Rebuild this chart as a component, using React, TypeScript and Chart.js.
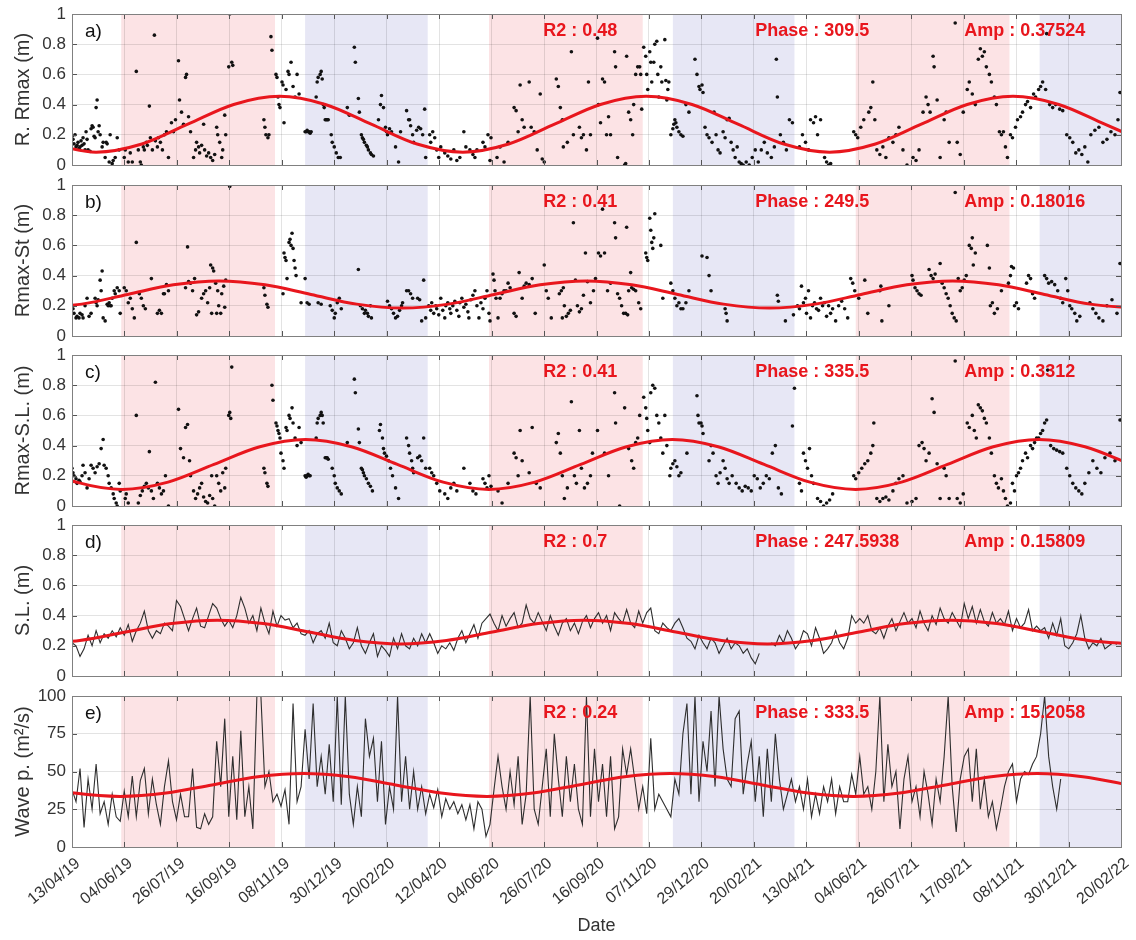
import React, { useEffect, useRef } from "react";
import { Chart, registerables } from "chart.js";
Chart.register(...registerables);

const FONT = "'Liberation Sans', Arial, Helvetica, sans-serif";
const RED = "#e8161d";
const PINK = "#fce3e5";
const LAV = "#e7e7f5";

const startDate = "2019-04-13";
const totalDays = 1044;
const tickLabels = ["13/04/19","04/06/19","26/07/19","16/09/19","08/11/19","30/12/19","20/02/20","12/04/20","04/06/20","26/07/20","16/09/20","07/11/20","29/12/20","20/02/21","13/04/21","04/06/21","26/07/21","17/09/21","08/11/21","30/12/21","20/02/22"];
const summerBands = [["2019-06-01","2019-11-01"],["2020-06-01","2020-11-01"],["2021-06-01","2021-11-01"]];
const winterBands = [["2019-12-01","2020-04-01"],["2020-12-01","2021-04-01"],["2021-12-01","2022-04-01"]];
const noteDays = [469, 680, 888];

// a) R. Rmax (m)
const rRmaxPts = [
[0,0.19],[1,0.17],[2,0.14],[3,0.2],[4,0.12],[5,0.13],[6,0.15],[7,0.11],[8,0.12],[9,0.16],[10,0.13],[11,0.18],[12,0.14],[13,0.1],[14,0.22],[15,0.17],[16,0.1],[18,0.09],[19,0.24],[20,0.26],[21,0.25],[22,0.19],[23,0.18],[24,0.38],[25,0.43],[26,0.22],[27,0.26],[28,0.2],[30,0.12],[31,0.15],[33,0.05],[34,0.15],[35,0.14],[37,0.02],[38,0.2],[40,0.01],[41,0.03],[43,0.05],[45,0.18],[47,0.1],
[52,0.05],[53,0.1],[56,0.02],[58,0.08],[60,0.02],[64,0.62],[66,0.1],[68,0.02],[69,0.0],[71,0.12],[72,0.1],[74,0.15],[75,0.13],[77,0.39],[78,0.18],[80,0.1],[82,0.86],[83,0.16],[85,0.12],[86,0.18],[88,0.15],[90,0.1],[92,0.2],[94,0.22],[96,0.05],[99,0.28],[101,0.22],[103,0.3],[106,0.69],[107,0.43],[109,0.35],[111,0.27],[113,0.58],[114,0.6],[116,0.32],[118,0.22],[121,0.05],[123,0.1],[124,0.15],[126,0.12],[127,0.08],[129,0.13],[131,0.27],[132,0.1],[134,0.06],[136,0.08],[138,0.05],[140,0.03],[142,0.07],[144,0.25],[145,0.2],[147,0.15],[149,0.05],[150,0.1],[152,0.33],[153,0.2],[156,0.65],[157,1.0],[159,0.68],[160,0.66],
[191,0.3],[192,0.25],[193,0.2],[195,0.18],[196,0.2],[198,0.85],[199,0.76],
[203,0.6],[204,0.58],[205,0.45],[206,0.4],[207,0.38],[209,0.55],[210,0.53],[211,0.28],[213,0.5],[215,0.62],[216,0.6],[218,0.68],[220,0.52],[222,0.45],[224,0.6],[226,0.47],
[232,0.22],[233,0.22],[234,0.23],[235,0.22],[236,0.22],[237,0.21],[238,0.22],[243,0.45],[244,0.55],[245,0.58],[247,0.6],[248,0.62],[249,0.57],[250,0.4],[251,0.38],[252,0.3],[253,0.3],[254,0.3],[255,0.3],[258,0.2],[259,0.15],[261,0.12],[263,0.08],[265,0.05],[267,0.05],[274,0.38],[276,0.33],[281,0.78],[282,0.68],[285,0.44],[286,0.35],[288,0.2],[289,0.18],[290,0.17],[291,0.15],[293,0.13],[294,0.12],[295,0.1],[297,0.08],[298,0.07],[300,0.06],[305,0.3],[307,0.4],[308,0.46],[310,0.38],[312,0.25],[313,0.22],[314,0.2],[316,0.24],[318,0.22],[322,0.12],[325,0.02],[327,0.22],[333,0.36],[335,0.3],[336,0.3],[337,0.26],[339,0.2],[340,0.15],[343,0.23],[345,0.25],[347,0.24],[349,0.2],[351,0.37],[352,0.05],
[356,0.2],[357,0.15],[359,0.22],[361,0.18],[363,0.1],[365,0.05],[367,0.12],[371,0.08],[374,0.06],[377,0.04],[380,0.1],[383,0.03],[386,0.05],[390,0.22],[392,0.12],[396,0.1],[399,0.07],[401,0.05],[403,0.1],[409,0.15],[411,0.12],[414,0.2],[416,0.03],[417,0.18],
[423,0.05],[426,0.12],[430,0.02],[434,0.15],[440,0.38],[442,0.36],[444,0.22],[446,0.53],[448,0.3],[450,0.25],[455,0.55],[457,0.25],[460,0.22],[463,0.1],[466,0.47],[468,0.04],[470,0.02],[482,0.57],[484,0.52],[486,0.38],[488,0.3],[489,0.12],[493,0.15],[497,0.75],[499,0.2],[505,0.25],[507,0.18],[509,0.2],[512,0.1],[514,0.55],[516,0.2],
[523,0.84],[524,0.4],[526,0.28],[528,0.57],[530,0.55],[532,0.2],[534,0.32],[536,0.2],[540,0.75],[541,0.65],[543,0.05],[550,0.0],[551,0.01],[552,0.72],[554,0.35],[556,0.3],[558,0.2],[559,0.4],[561,0.6],[563,0.65],[565,0.65],[566,0.6],[567,0.37],
[569,0.78],[571,0.72],[572,0.6],[573,0.5],[575,0.75],[576,0.68],[577,0.55],[579,0.68],[580,0.8],[582,0.82],[583,0.6],[584,0.45],[586,0.65],[587,0.55],[590,0.83],[591,0.56],[592,0.43],[593,0.5],[594,0.55],[596,0.2],
[598,0.24],[599,0.27],[600,0.3],[601,0.28],[602,0.25],[604,0.22],[606,0.2],[608,0.19],[611,0.4],[614,0.35],[620,0.7],[622,0.6],[624,0.52],[625,0.5],[627,0.53],[628,0.48],[630,0.25],[632,0.2],[634,0.18],[637,0.15],[639,0.35],[641,0.2],[643,0.1],[645,0.08],[648,0.22],[650,0.18],[652,0.3],[654,0.31],[656,0.15],[658,0.1],[660,0.05],[662,0.12],[664,0.02],[666,0.01],[668,0.0],[671,0.02],[674,0.0],[677,0.05],[680,0.1],[683,0.02],[686,0.1],[689,0.15],[692,0.08],[696,0.05],[699,0.12],[701,0.7],[702,0.45],[705,0.2],[708,0.15],[711,0.1],[714,0.3],[717,0.28],
[724,0.12],[727,0.2],[730,0.15],[733,0.1],[735,0.3],[738,0.28],[740,0.32],[742,0.2],[745,0.3],[749,0.05],[751,0.02],[753,0.0],[755,0.01],
[778,0.22],[780,0.2],[782,0.18],[785,0.25],[788,0.3],[793,0.35],[795,0.38],[797,0.55],[799,0.3],[801,0.1],[804,0.07],[807,0.12],[810,0.05],[813,0.18],[817,0.15],[820,0.2],[823,0.25],[827,0.1],[831,0.0],[837,0.05],[840,0.03],[843,0.1],[847,0.35],[850,0.45],[852,0.4],[854,0.35],[857,0.72],[858,0.65],[861,0.43],[864,0.05],[868,0.3],[870,0.35],[873,0.15],[879,0.94],[881,0.15],[884,0.07],[887,0.35],[891,0.5],[893,0.55],[896,0.47],[899,0.4],[902,0.7],[904,0.77],[906,0.72],[908,0.75],[910,0.65],[913,0.6],[915,0.55],[918,0.45],[920,0.4],[923,0.22],[925,0.2],[927,0.22],[929,0.12],
[931,0.05],[934,0.2],[936,0.18],[939,0.25],[941,0.3],[944,0.32],[946,0.35],[949,0.4],[951,0.42],[954,0.38],[957,0.47],[959,0.45],
[962,0.5],[964,0.52],[966,0.55],[969,0.5],[970,0.87],[973,0.4],[976,0.38],[979,0.4],[983,0.37],[986,0.36],[990,0.2],[993,0.18],[996,0.15],[999,0.08],[1002,0.1],[1005,0.07],[1008,0.12],[1011,0.02],[1014,0.2],[1018,0.23],[1022,0.25],[1026,0.15],[1030,0.17],[1034,0.22],[1038,0.2],[1041,0.3],[1043,0.48]
];

// b) Rmax-St (m)
const rmaxStPts = [
[1,0.18],[2,0.15],[4,0.12],[5,0.13],[7,0.12],[8,0.15],[10,0.14],[11,0.12],[13,0.2],[15,0.25],[17,0.13],[19,0.15],[23,0.25],[24,0.22],[25,0.2],[26,0.24],[28,0.37],[29,0.3],[30,0.43],[31,0.12],[33,0.1],[35,0.21],[36,0.2],[37,0.22],[38,0.2],[39,0.2],[40,0.25],[42,0.3],[43,0.28],[45,0.32],[47,0.3],[48,0.15],
[52,0.32],[54,0.3],[56,0.22],[58,0.25],[60,0.18],[62,0.12],[64,0.62],[67,0.28],[69,0.25],[71,0.2],[73,0.18],[79,0.38],[85,0.15],[87,0.17],[89,0.15],[91,0.28],[92,0.28],[94,0.34],[96,0.3],[113,0.32],[115,0.59],[116,0.36],[118,0.35],[120,0.3],[122,0.38],[124,0.14],[126,0.16],[129,0.25],[131,0.28],[133,0.3],[135,0.22],[137,0.32],[138,0.47],[139,0.15],[140,0.45],[141,0.43],[143,0.35],[144,0.15],[145,0.3],[146,0.2],[148,0.15],[149,0.28],[151,0.33],[152,0.19],[153,0.37],[157,0.99],
[191,0.32],[192,0.27],[194,0.21],[195,0.19],
[210,0.28],[211,0.55],[212,0.52],[213,0.5],[214,0.38],[216,0.62],[217,0.64],[218,0.6],[219,0.68],[220,0.58],[221,0.5],[222,0.45],[223,0.4],[228,0.22],[232,0.38],
[234,0.22],[236,0.21],[245,0.22],[248,0.21],[257,0.2],[259,0.17],[261,0.12],[262,0.15],[264,0.22],[266,0.25],[268,0.18],[285,0.44],[287,0.2],[289,0.18],[291,0.15],[292,0.17],[294,0.15],[295,0.13],[297,0.2],[298,0.12],[314,0.23],[316,0.2],[318,0.18],[320,0.15],[322,0.12],[324,0.13],[326,0.17],[328,0.2],[329,0.22],[333,0.3],[335,0.3],[337,0.28],[339,0.25],[344,0.25],[346,0.24],[348,0.1],[350,0.37],[352,0.12],
[355,0.2],[357,0.17],[358,0.22],[360,0.15],[362,0.2],[363,0.18],[365,0.14],[367,0.25],[369,0.17],[371,0.12],[372,0.2],[374,0.22],[376,0.18],[377,0.15],[379,0.2],[381,0.23],[383,0.17],[385,0.13],[386,0.22],[388,0.25],[390,0.19],[392,0.21],[394,0.16],[395,0.12],[397,0.24],[399,0.27],[401,0.3],[403,0.2],[405,0.12],[407,0.22],[409,0.18],[411,0.25],[413,0.3],[415,0.15],[416,0.1],
[419,0.41],[420,0.37],[421,0.3],[422,0.25],[424,0.12],[426,0.25],[428,0.28],[430,0.3],[432,0.3],[434,0.35],[436,0.32],[440,0.15],[442,0.13],[445,0.42],[448,0.25],[450,0.33],[452,0.35],[455,0.34],[458,0.38],[461,0.15],[470,0.47],[472,0.3],[474,0.25],[477,0.12],[485,0.28],[487,0.3],[488,0.12],[489,0.32],[490,0.2],[492,0.13],[494,0.15],[496,0.17],[499,0.75],[501,0.37],[503,0.2],[505,0.16],[507,0.18],[509,0.27],[511,0.55],[513,0.36],[516,0.22],[519,0.3],[521,0.38],
[524,0.55],[526,0.53],[528,0.84],[530,0.55],[533,0.3],[536,0.35],[540,0.75],[541,0.65],[543,0.28],[545,0.25],[547,0.2],[549,0.15],[551,0.15],[552,0.72],[553,0.14],[554,0.3],[556,0.42],[557,0.32],[559,0.31],[561,0.3],[564,0.22],[566,0.18],
[571,0.55],[572,0.52],[573,0.5],[575,0.78],[576,0.7],[577,0.62],[578,0.58],[579,0.65],[580,0.81],[586,0.6],[588,0.25],
[596,0.35],[598,0.3],[600,0.25],[602,0.2],[604,0.22],[606,0.18],[608,0.18],[611,0.22],[614,0.3],[627,0.53],[632,0.52],[634,0.4],[636,0.3],[650,0.18],[651,0.15],[652,0.1],[702,0.27],[703,0.23],[710,0.1],[718,0.14],
[722,0.2],[724,0.18],[726,0.33],[728,0.22],[730,0.25],[731,0.15],[733,0.3],[735,0.12],[737,0.2],[739,0.22],[741,0.18],[743,0.17],[745,0.25],[747,0.2],[749,0.22],[751,0.13],[753,0.2],[755,0.15],[757,0.18],[760,0.1],[763,0.2],[766,0.23],[769,0.18],[772,0.12],[775,0.38],[777,0.35],[779,0.3],
[783,0.25],[789,0.37],[792,0.15],[804,0.3],[805,0.33],[806,0.1],[813,0.2],[836,0.4],[837,0.37],[839,0.32],[841,0.3],[843,0.28],[845,0.27],[853,0.44],[855,0.4],[857,0.38],[859,0.41],[864,0.48],[866,0.35],[868,0.32],[870,0.28],[872,0.25],[874,0.2],[876,0.15],[878,0.12],[879,0.95],[880,0.1],[882,0.38],[884,0.3],[886,0.32],[888,0.37],[890,0.4],[893,0.6],[895,0.58],[896,0.65],[897,0.47],[899,0.55],[911,0.6],[913,0.45],[914,0.2],[916,0.22],[918,0.15],[921,0.18],[925,0.3],
[932,0.35],[934,0.4],[935,0.46],[937,0.45],[938,0.2],[940,0.22],[942,0.18],[950,0.35],[952,0.4],[954,0.38],[956,0.28],[958,0.25],
[968,0.4],[970,0.38],[972,0.35],[975,0.36],[978,0.34],[981,0.3],[984,0.25],[986,0.22],[989,0.38],[991,0.3],[993,0.2],[995,0.18],[998,0.15],[1000,0.1],[1003,0.13],[1013,0.22],[1016,0.18],[1019,0.15],[1022,0.12],[1026,0.1],[1030,0.2],[1035,0.24],[1040,0.15],[1043,0.48]
];

// c) Rmax-S.L. (m)
const rmaxSlPts = [
[0,0.25],[1,0.22],[2,0.2],[4,0.18],[5,0.15],[7,0.17],[8,0.16],[10,0.2],[11,0.27],[13,0.22],[15,0.12],[17,0.18],[19,0.27],[21,0.25],[23,0.22],[25,0.26],[27,0.28],[29,0.38],[31,0.44],[32,0.27],[34,0.25],[36,0.2],[37,0.15],[39,0.12],[41,0.08],[42,0.05],[44,0.02],[45,0.0],[47,0.15],[48,0.1],
[53,0.05],[54,0.08],[56,0.02],[64,0.6],[66,0.02],[68,0.07],[70,0.1],[72,0.13],[74,0.15],[76,0.12],[77,0.36],[79,0.1],[81,0.05],[83,0.82],[85,0.15],[87,0.12],[89,0.08],[91,0.1],[93,0.2],[96,0.0],[106,0.64],[108,0.38],[111,0.32],[113,0.52],[115,0.54],[117,0.3],[118,0.2],[121,0.1],[123,0.05],[125,0.08],[127,0.12],[129,0.15],[131,0.06],[133,0.03],[135,0.02],[137,0.07],[139,0.2],[140,0.05],[142,0.0],[144,0.2],[146,0.15],[148,0.1],[150,0.22],[152,0.12],[153,0.25],[156,0.6],[157,0.62],[158,0.58],[159,0.92],[191,0.25],[192,0.22],[194,0.15],[195,0.13],[199,0.8],[200,0.7],
[203,0.55],[204,0.53],[205,0.5],[206,0.48],[207,0.45],[208,0.35],[210,0.3],[211,0.25],[213,0.52],[214,0.5],[216,0.6],[217,0.58],[219,0.65],[220,0.55],[222,0.45],[224,0.4],[226,0.52],[228,0.42],
[232,0.2],[233,0.19],[234,0.2],[235,0.21],[236,0.2],[237,0.2],[243,0.45],[244,0.55],[245,0.58],[247,0.6],[248,0.62],[249,0.6],[250,0.55],[252,0.32],[253,0.32],[254,0.32],[255,0.31],[259,0.25],[261,0.2],[262,0.15],[264,0.12],[266,0.1],[268,0.08],[274,0.42],[281,0.84],[282,0.75],[285,0.51],[286,0.42],[288,0.25],[289,0.24],[290,0.22],[291,0.2],[293,0.18],[295,0.15],[297,0.13],[299,0.1],[306,0.5],[307,0.54],[309,0.45],[310,0.38],[311,0.35],[313,0.33],[315,0.3],[317,0.25],[319,0.2],[322,0.12],[325,0.05],[333,0.45],[335,0.4],[336,0.35],[338,0.3],[339,0.25],[340,0.22],[344,0.32],[346,0.33],[348,0.3],[350,0.45],[352,0.25],
[356,0.25],[358,0.22],[360,0.2],[363,0.15],[366,0.1],[371,0.08],[374,0.05],[377,0.12],[380,0.15],[383,0.1],[390,0.25],[396,0.15],[399,0.1],[402,0.08],[409,0.18],[411,0.15],[413,0.12],[415,0.2],[417,0.13],
[424,0.1],[428,0.02],[434,0.15],[440,0.35],[442,0.32],[444,0.2],[446,0.5],[448,0.3],[455,0.22],[458,0.52],[462,0.15],[466,0.12],[482,0.42],[484,0.48],[486,0.35],[488,0.2],[490,0.05],[493,0.12],[497,0.69],[500,0.2],[502,0.15],[505,0.5],[507,0.25],[510,0.12],[513,0.15],[516,0.2],[518,0.35],
[523,0.5],[530,0.35],[534,0.2],[540,0.75],[541,0.55],[545,0.0],[550,0.65],[554,0.38],[557,0.3],[559,0.25],[561,0.42],[563,0.45],[565,0.6],
[569,0.72],[571,0.65],[572,0.58],[573,0.5],[575,0.42],[576,0.75],[578,0.8],[580,0.78],[582,0.6],[584,0.55],[586,0.45],[588,0.35],[590,0.6],[592,0.4],[595,0.2],
[596,0.25],[598,0.28],[600,0.3],[602,0.26],[604,0.2],[606,0.22],[612,0.35],[622,0.73],[623,0.6],[624,0.55],[626,0.55],[627,0.53],[628,0.48],[634,0.3],[636,0.4],[638,0.35],[641,0.2],[643,0.15],[645,0.22],[648,0.3],[650,0.25],[652,0.18],[654,0.15],[657,0.2],[661,0.15],[664,0.12],[667,0.1],[670,0.13],[673,0.12],[676,0.1],[679,0.2],[682,0.18],[685,0.12],[688,0.15],[691,0.2],[694,0.18],[697,0.35],[700,0.4],[703,0.12],[706,0.08],[717,0.53],[719,0.78],
[724,0.15],[726,0.1],[728,0.35],[730,0.3],[732,0.25],[734,0.38],[736,0.2],[738,0.15],[742,0.05],[745,0.03],[748,0.0],[751,0.02],[754,0.04],[757,0.08],[778,0.2],[780,0.18],[783,0.22],[786,0.25],[789,0.28],
[792,0.3],[795,0.35],[797,0.4],[798,0.55],[801,0.05],[804,0.03],[807,0.05],[810,0.06],[813,0.04],[817,0.1],[820,0.15],[823,0.18],[827,0.2],[831,0.02],[836,0.03],[840,0.05],[843,0.4],[846,0.42],[848,0.38],[850,0.3],[853,0.35],[856,0.71],[858,0.62],[861,0.28],[864,0.05],[868,0.25],[870,0.2],[873,0.05],[879,0.96],[881,0.05],[884,0.02],[887,0.08],[891,0.55],[893,0.52],[896,0.6],[898,0.5],[900,0.45],[902,0.67],[904,0.65],[906,0.63],[908,0.58],[910,0.55],[913,0.45],[915,0.35],[918,0.2],[920,0.15],[922,0.12],[925,0.18],[927,0.1],[929,0.05],[931,0.0],
[934,0.02],[936,0.15],[938,0.1],[940,0.2],[942,0.22],[944,0.25],[946,0.3],[949,0.35],[951,0.32],[954,0.4],[956,0.38],[958,0.42],[960,0.45],
[962,0.45],[964,0.48],[966,0.5],[968,0.55],[970,0.57],[971,0.9],[974,0.4],[977,0.38],[980,0.37],[983,0.36],[986,0.35],[990,0.25],[993,0.2],[996,0.15],[999,0.12],[1002,0.1],[1005,0.08],[1008,0.15],[1012,0.22],[1016,0.3],[1020,0.25],[1024,0.22],[1028,0.32],[1033,0.35],[1038,0.3],[1043,0.57]
];

// d) S.L. (m), one value every 4 days from 13/04/19
const seaLevelStep = 4;
const seaLevel = [
0.22,0.2,0.13,0.18,0.27,0.2,0.3,0.22,0.28,0.25,0.3,0.26,
0.32,0.27,0.34,0.23,0.3,0.35,0.43,0.3,0.25,0.3,0.28,0.35,0.33,0.3,0.5,0.46,0.38,0.3,0.38,0.45,0.33,0.32,0.4,0.48,0.45,0.38,0.33,0.37,0.32,0.4,0.52,0.45,0.35,0.4,0.3,0.45,0.35,0.28,
0.43,0.33,0.4,0.37,0.38,0.32,0.35,0.28,
0.27,0.3,0.22,0.28,0.3,0.25,0.35,0.22,0.2,0.3,0.25,0.18,0.22,0.32,0.2,0.15,0.22,0.28,0.13,0.2,0.17,0.13,0.25,0.18,0.28,0.2,0.18,0.25,0.2,0.28,
0.22,0.28,0.22,0.15,0.2,0.18,0.22,0.17,0.25,0.3,0.22,0.28,0.34,0.25,0.35,0.38,
0.41,0.35,0.3,0.4,0.33,0.38,0.42,0.32,0.35,0.47,0.38,0.35,0.42,0.36,0.3,0.4,0.33,
0.27,0.35,0.38,0.3,0.35,0.28,0.36,0.4,0.32,0.38,0.42,0.35,0.4,0.3,0.42,0.38,0.35,0.44,0.35,0.32,0.43,
0.35,0.42,0.45,0.3,0.28,0.35,0.32,
0.3,0.35,0.38,0.32,0.25,0.23,0.18,0.27,0.22,0.18,0.25,0.22,0.15,0.2,0.25,0.18,0.22,0.2,0.15,0.18,0.12,0.08,0.15,null,null,0.22,0.2,0.27,0.22,0.3,0.25,
0.18,0.22,0.3,0.28,0.2,0.32,0.25,0.15,0.18,0.22,0.3,0.22,0.18,0.25,0.4,
0.35,0.38,0.35,0.4,0.3,0.28,0.32,0.25,0.33,0.38,0.3,0.36,0.42,0.35,0.38,0.32,0.43,0.35,0.3,0.4,0.34,0.45,0.38,0.35,0.42,0.37,0.32,0.48,0.38,0.46,0.35,0.44,0.36,0.33,0.42,0.35,0.38,0.34,
0.43,0.3,0.38,0.32,0.35,0.44,0.3,
0.33,0.3,0.32,0.25,0.35,0.27,0.38,0.2,0.18,0.22,0.28,0.4,0.25,0.18,0.22,0.2,0.25,0.18,0.2,0.22,0.21
];

// e) Wave p. (m²/s), one value every 4 days from 13/04/19
const wavePowerStep = 4;
const wavePower = [
38,30,52,13,45,25,55,22,30,15,35,20,
17,37,20,47,20,44,52,22,45,28,15,40,57,30,18,35,20,20,52,13,12,22,15,20,
70,40,85,20,60,18,77,20,40,12,100,100,
40,50,30,35,27,38,15,95,
30,40,78,45,95,40,60,35,68,30,100,28,100,35,15,40,20,85,60,72,30,70,15,40,25,100,30,60,25,50,
25,40,22,35,26,38,20,32,25,30,22,28,18,28,12,30,
25,7,15,38,60,40,25,50,28,60,15,35,100,25,15,40,65,
20,75,45,20,60,30,55,25,15,100,20,65,30,55,20,60,12,20,65,48,65,
45,25,40,22,72,25,35,
30,25,20,45,35,75,95,35,100,30,70,50,90,40,100,65,45,40,85,90,35,55,70,30,60,20,65,30,75,45,25,
35,45,30,40,25,45,20,35,22,40,30,45,22,40,30,
30,48,35,60,35,40,25,50,100,30,68,40,50,12,45,60,30,40,20,50,35,15,45,30,60,100,40,10,45,60,65,30,65,25,45,20,30,12,
25,40,50,55,30,45,50,
48,55,60,75,100,60,40,25,45
];

// fitted annual sinusoids
const fitDaysA = [-21.6,24,69.6,115.3,160.9,206.5,252.1,297.8,343.4,389,434.6,480.3,525.9,571.5,617.1,662.8,708.4,754,799.6,845.3,890.9,936.5,982.1,1027.8,1073.4];
const fitValsA = [0.139,0.085,0.139,0.27,0.401,0.455,0.401,0.27,0.139,0.085,0.139,0.27,0.401,0.455,0.401,0.27,0.139,0.085,0.139,0.27,0.401,0.455,0.401,0.27,0.139];
const fitDaysB = [-36,9.6,55.3,100.9,146.5,192.1,237.8,283.4,329,374.6,420.3,465.9,511.5,557.1,602.8,648.4,694,739.6,785.3,830.9,876.5,922.1,967.8,1013.4,1059];
const fitValsB = [0.185,0.211,0.275,0.339,0.365,0.339,0.275,0.211,0.185,0.211,0.275,0.339,0.365,0.339,0.275,0.211,0.185,0.211,0.275,0.339,0.365,0.339,0.275,0.211,0.185];
const fitDaysC = [-41.3,4.4,50,95.6,141.3,186.9,232.5,278.1,323.8,369.4,415,460.6,506.3,551.9,597.5,643.1,688.8,734.4,780,825.6,871.3,916.9,962.5,1008.1,1053.8];
const fitValsC = [0.275,0.158,0.11,0.158,0.275,0.392,0.44,0.392,0.275,0.158,0.11,0.158,0.275,0.392,0.44,0.392,0.275,0.158,0.11,0.158,0.275,0.392,0.44,0.392,0.275];
const fitDaysD = [-37.9,7.7,53.4,99,144.6,190.2,235.9,281.5,327.1,372.7,418.4,464,509.6,555.2,600.9,646.5,692.1,737.7,783.4,829,874.6,920.2,965.9,1011.5,1057.1];
const fitValsD = [0.212,0.235,0.291,0.347,0.37,0.347,0.291,0.235,0.212,0.235,0.291,0.347,0.37,0.347,0.291,0.235,0.212,0.235,0.291,0.347,0.37,0.347,0.291,0.235,0.212];
const fitDaysE = [-43.3,2.4,48,93.6,139.3,184.9,230.5,276.1,321.8,367.4,413,458.6,504.3,549.9,595.5,641.1,686.8,732.4,778,823.6,869.3,914.9,960.5,1006.1,1051.8];
const fitValsE = [41.1,35.7,33.5,35.7,41.1,46.5,48.7,46.5,41.1,35.7,33.5,35.7,41.1,46.5,48.7,46.5,41.1,35.7,33.5,35.7,41.1,46.5,48.7,46.5,41.1];

const notesA = ["R2 : 0.48", "Phase : 309.5", "Amp : 0.37524"];
const notesB = ["R2 : 0.41", "Phase : 249.5", "Amp : 0.18016"];
const notesC = ["R2 : 0.41", "Phase : 335.5", "Amp : 0.3312"];
const notesD = ["R2 : 0.7", "Phase : 247.5938", "Amp : 0.15809"];
const notesE = ["R2 : 0.24", "Phase : 333.5", "Amp : 15.2058"];

const panelTops = [14, 185, 355, 525, 696];
const plotH = 151;

const dayOf = (s: string) => (Date.parse(s + "T00:00:00Z") - Date.parse(startDate + "T00:00:00Z")) / 86400000;
const tickDays = tickLabels.map((_, i) => (i * totalDays) / (tickLabels.length - 1));

type PanelCfg = {
  letter: string; title: string; kind: "scatter" | "line";
  points?: number[][]; series?: (number | null)[]; step?: number;
  fitDays: number[]; fitVals: number[]; yMax: number; yStep: number; notes: string[];
};

const panels: PanelCfg[] = [
  { letter: "a)", title: "R. Rmax (m)", kind: "scatter", points: rRmaxPts, fitDays: fitDaysA, fitVals: fitValsA, yMax: 1, yStep: 0.2, notes: notesA },
  { letter: "b)", title: "Rmax-St (m)", kind: "scatter", points: rmaxStPts, fitDays: fitDaysB, fitVals: fitValsB, yMax: 1, yStep: 0.2, notes: notesB },
  { letter: "c)", title: "Rmax-S.L. (m)", kind: "scatter", points: rmaxSlPts, fitDays: fitDaysC, fitVals: fitValsC, yMax: 1, yStep: 0.2, notes: notesC },
  { letter: "d)", title: "S.L. (m)", kind: "line", series: seaLevel, step: seaLevelStep, fitDays: fitDaysD, fitVals: fitValsD, yMax: 1, yStep: 0.2, notes: notesD },
  { letter: "e)", title: "Wave p. (m\u00b2/s)", kind: "line", series: wavePower, step: wavePowerStep, fitDays: fitDaysE, fitVals: fitValsE, yMax: 100, yStep: 25, notes: notesE },
];

function makeDecor(cfg: PanelCfg) {
  return {
    id: "decor",
    beforeDraw(chart: any) {
      const { ctx, chartArea: ca, scales } = chart;
      const x = scales.x;
      ctx.save();
      ctx.beginPath();
      ctx.rect(ca.left, ca.top, ca.right - ca.left, ca.bottom - ca.top);
      ctx.clip();
      const fill = (bands: string[][], color: string) => {
        ctx.fillStyle = color;
        for (const [s, e] of bands) {
          const x0 = x.getPixelForValue(dayOf(s));
          const x1 = x.getPixelForValue(dayOf(e));
          ctx.fillRect(x0, ca.top, x1 - x0, ca.bottom - ca.top);
        }
      };
      fill(summerBands, PINK);
      fill(winterBands, LAV);
      ctx.restore();
    },
    afterDraw(chart: any) {
      const { ctx, chartArea: ca, scales } = chart;
      const x = scales.x, y = scales.y;
      ctx.save();
      ctx.strokeStyle = "#555";
      ctx.lineWidth = 1;
      ctx.beginPath();
      for (const d of tickDays) {
        const px = Math.round(x.getPixelForValue(d)) + 0.5;
        ctx.moveTo(px, ca.bottom); ctx.lineTo(px, ca.bottom - 5);
        ctx.moveTo(px, ca.top); ctx.lineTo(px, ca.top + 5);
      }
      for (const t of y.ticks) {
        const py = Math.round(y.getPixelForValue(t.value)) + 0.5;
        ctx.moveTo(ca.left, py); ctx.lineTo(ca.left + 5, py);
        ctx.moveTo(ca.right, py); ctx.lineTo(ca.right - 5, py);
      }
      ctx.stroke();
      ctx.strokeStyle = "#808080";
      ctx.strokeRect(Math.round(ca.left) + 0.5, Math.round(ca.top) + 0.5, Math.round(ca.right - ca.left), Math.round(ca.bottom - ca.top));
      ctx.textBaseline = "middle";
      ctx.textAlign = "left";
      ctx.fillStyle = "#111";
      ctx.font = `19px ${FONT}`;
      ctx.fillText(cfg.letter, ca.left + 13, ca.top + 18);
      ctx.fillStyle = RED;
      ctx.font = `bold 18px ${FONT}`;
      cfg.notes.forEach((n, i) => ctx.fillText(n, x.getPixelForValue(noteDays[i]), ca.top + 17));
      ctx.restore();
    },
  };
}

function Panel({ cfg, index }: { cfg: PanelCfg; index: number }) {
  const ref = useRef<HTMLCanvasElement>(null);
  const isLast = index === panels.length - 1;
  const top = panelTops[index] - 14;
  const h = isLast ? 940 - top : 14 + plotH + 14;
  useEffect(() => {
    if (!ref.current) return;
    const fitData = cfg.fitDays.map((d, i) => ({ x: d, y: cfg.fitVals[i] }));
    const obsData = cfg.kind === "scatter"
      ? (cfg.points as number[][]).map(([d, v]) => ({ x: d, y: v }))
      : (cfg.series as (number | null)[]).map((v, i) => ({ x: i * (cfg.step as number), y: v }));
    const obs: any = cfg.kind === "scatter"
      ? { data: obsData, showLine: false, pointRadius: 1.8, pointBackgroundColor: "#111", pointBorderWidth: 0, borderWidth: 0 }
      : { data: obsData, borderColor: "#2e2e2e", borderWidth: 1.1, pointRadius: 0, spanGaps: false, tension: 0 };
    const chart = new Chart(ref.current, {
      type: "line",
      data: {
        datasets: [
          { data: fitData, borderColor: RED, borderWidth: 3, pointRadius: 0, cubicInterpolationMode: "monotone", fill: false } as any,
          obs,
        ],
      },
      options: {
        animation: false,
        responsive: false,
        events: [],
        layout: { padding: { top: 14, left: 0, right: 15, bottom: isLast ? 0 : 14 } },
        plugins: { legend: { display: false }, tooltip: { enabled: false } },
        scales: {
          x: {
            type: "linear", min: 0, max: totalDays,
            grid: { color: "rgba(0,0,0,0.11)", drawTicks: false },
            border: { display: false },
            afterBuildTicks: (s: any) => { s.ticks = tickDays.map((v) => ({ value: v })); },
            ticks: {
              display: isLast, autoSkip: false, maxRotation: 40, minRotation: 40, padding: 7, labelOffset: 6,
              font: { size: 16, family: FONT }, color: "#333",
              callback: (_v: any, i: number) => tickLabels[i],
            },
            title: { display: isLast, text: "Date", font: { size: 18, family: FONT }, color: "#333", padding: { top: 0, bottom: 3 } },
            afterFit: (s: any) => { s.height = isLast ? 93 : 0; s.paddingLeft = 0; s.paddingRight = 0; },
          } as any,
          y: {
            min: 0, max: cfg.yMax,
            grid: { color: "rgba(0,0,0,0.11)", drawTicks: false },
            border: { display: false },
            ticks: {
              stepSize: cfg.yStep, padding: 6, font: { size: 17, family: FONT }, color: "#333",
              callback: (v: any) => String(Math.round(Number(v) * 100) / 100),
            },
            title: { display: true, text: cfg.title, font: { size: 20, family: FONT }, color: "#333", padding: { top: 11, bottom: 0 } },
            afterFit: (s: any) => { s.width = 72; s.paddingTop = 0; s.paddingBottom = 0; },
          } as any,
        },
      },
      plugins: [makeDecor(cfg)],
    });
    return () => chart.destroy();
  }, []);
  return (
    <canvas ref={ref} width={1136} height={h}
      style={{ position: "absolute", left: 0, top, width: 1136, height: h }} />
  );
}

export default function App() {
  return (
    <div style={{ position: "absolute", left: 0, top: 0, width: 1136, height: 940, background: "#fff" }}>
      {panels.map((p, i) => <Panel key={i} cfg={p} index={i} />)}
    </div>
  );
}
